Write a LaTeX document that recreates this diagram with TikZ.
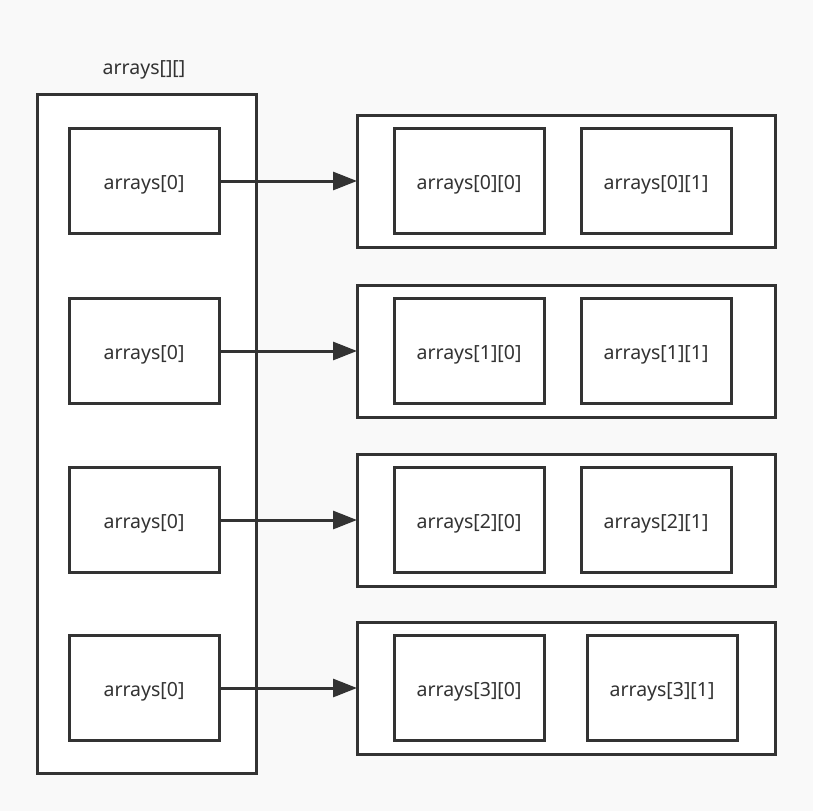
\documentclass[tikz,border=0pt]{standalone}
\usepackage{fontspec}
\setmainfont{Noto Sans}
\usetikzlibrary{arrows.meta}
\definecolor{bg}{HTML}{F9F9F9}
\definecolor{ln}{HTML}{333333}
\definecolor{tx}{HTML}{333333}
\begin{document}
\begin{tikzpicture}[x=1pt,y=-1pt,
  box/.style={draw=ln,line width=3pt,fill=white},
  cell/.style={box,minimum width=150pt,minimum height=105pt,inner sep=0pt,
    font=\fontsize{19.5}{22}\selectfont,text=tx,text height=17pt,text depth=0pt},
  link/.style={draw=ln,line width=3pt,shorten >=-1.5pt,-{Triangle[length=24pt,width=18pt]}},
  lbl/.style={font=\fontsize{19.5}{22}\selectfont,text=tx}]
\fill[bg] (0,0) rectangle (813,811);
\useasboundingbox (0,0) rectangle (813,811);
\node[lbl] (title) at (144,70) {arrays[][]};
\draw[box] (37,94) rectangle (256,773);
% left cells
\foreach \i/\y in {0/181,1/351,2/520,3/688}{
  \node[cell] (L\i) at (144,\y) {arrays[0]};
}
% right containers
\foreach \i/\y in {0/181,1/351,2/520,3/688}{
  \node[box,minimum width=418pt,minimum height=132pt,inner sep=0pt] (R\i) at (566,\y) {};
}
\node[cell] (C00) at (469,181) {arrays[0][0]};
\node[cell] (C01) at (656,181) {arrays[0][1]};
\node[cell] (C10) at (469,351) {arrays[1][0]};
\node[cell] (C11) at (656,351) {arrays[1][1]};
\node[cell] (C20) at (469,520) {arrays[2][0]};
\node[cell] (C21) at (656,520) {arrays[2][1]};
\node[cell] (C30) at (469,688) {arrays[3][0]};
\node[cell] (C31) at (662,688) {arrays[3][1]};
\foreach \i in {0,1,2,3}{
  \draw[link] (L\i.east) -- (R\i.west);
}
\end{tikzpicture}
\end{document}
